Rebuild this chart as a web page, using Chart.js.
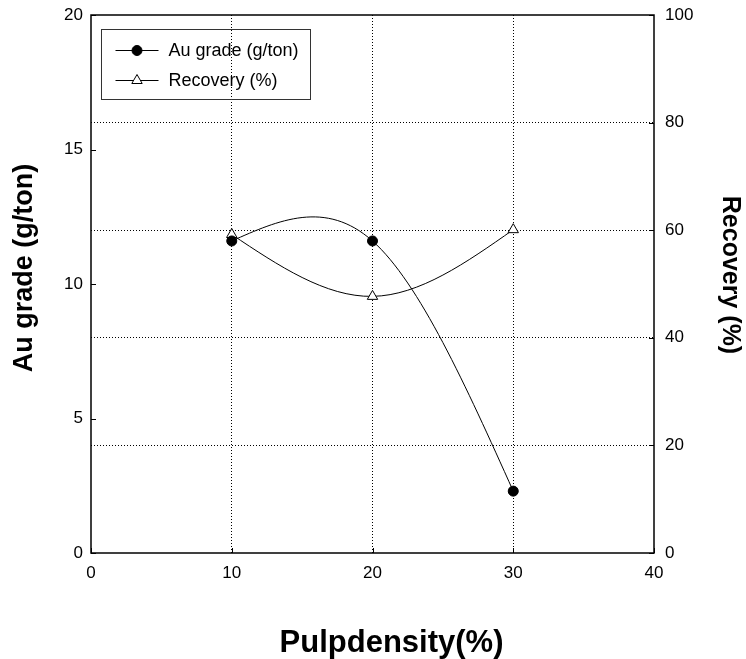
<!DOCTYPE html>
<html><head><meta charset="utf-8">
<script src="https://cdn.jsdelivr.net/npm/chart.js@4/dist/chart.umd.min.js"></script>
<style>html,body{margin:0;padding:0;background:#fff}</style>
</head><body>
<canvas id="c" width="746" height="659"></canvas>
<script>
const pulpDensity = [10, 20, 30];
const auGrade = [11.6, 11.6, 2.3];
const recovery = [59.2, 47.7, 60.1];
const xTicks = [0, 10, 20, 30, 40];
const leftTicks = [0, 5, 10, 15, 20];
const rightTicks = [0, 20, 40, 60, 80, 100];
const seriesNames = ['Au grade (g/ton)', 'Recovery (%)'];
const titleX = 'Pulpdensity(%)';
const titleLeft = 'Au grade (g/ton)';
const titleRight = 'Recovery (%)';

const FONT = '"Liberation Sans", Arial, Helvetica, sans-serif';

// natural cubic spline slopes at the knots (data space)
function splineSlopes(xs, ys) {
  const n = xs.length;
  const h = [];
  for (let i = 0; i < n - 1; i++) h.push(xs[i + 1] - xs[i]);
  const M = new Array(n).fill(0);
  if (n > 2) {
    const a = [], b = [], c = [], d = [];
    for (let i = 1; i < n - 1; i++) {
      a.push(h[i - 1]); b.push(2 * (h[i - 1] + h[i])); c.push(h[i]);
      d.push(6 * ((ys[i + 1] - ys[i]) / h[i] - (ys[i] - ys[i - 1]) / h[i - 1]));
    }
    const m = b.length;
    for (let i = 1; i < m; i++) {
      const w = a[i] / b[i - 1];
      b[i] -= w * c[i - 1]; d[i] -= w * d[i - 1];
    }
    const sol = new Array(m);
    sol[m - 1] = d[m - 1] / b[m - 1];
    for (let i = m - 2; i >= 0; i--) sol[i] = (d[i] - c[i] * sol[i + 1]) / b[i];
    for (let i = 0; i < m; i++) M[i + 1] = sol[i];
  }
  const s = [];
  for (let i = 0; i < n; i++) {
    if (i < n - 1) s.push((ys[i + 1] - ys[i]) / h[i] - h[i] * (2 * M[i] + M[i + 1]) / 6);
    else s.push((ys[i] - ys[i - 1]) / h[i - 1] + h[i - 1] * (M[i - 1] + 2 * M[i]) / 6);
  }
  return s;
}

const naturalSpline = {
  id: 'naturalSpline',
  beforeDatasetsDraw(chart) {
    chart.data.datasets.forEach((ds, di) => {
      const meta = chart.getDatasetMeta(di);
      const xs = ds.data.map(p => p.x), ys = ds.data.map(p => p.y);
      const sl = splineSlopes(xs, ys);
      const sx = chart.scales[meta.xAxisID], sy = chart.scales[meta.yAxisID];
      meta.data.forEach((pt, i) => {
        const hPrev = i > 0 ? xs[i] - xs[i - 1] : 0;
        const hNext = i < xs.length - 1 ? xs[i + 1] - xs[i] : 0;
        pt.cp1x = sx.getPixelForValue(xs[i] - hPrev / 3);
        pt.cp1y = sy.getPixelForValue(ys[i] - sl[i] * hPrev / 3);
        pt.cp2x = sx.getPixelForValue(xs[i] + hNext / 3);
        pt.cp2y = sy.getPixelForValue(ys[i] + sl[i] * hNext / 3);
      });
      if (meta.dataset) { meta.dataset._pointsUpdated = true; meta.dataset._path = undefined; }
    });
  }
};

function drawMarker(ctx, style, x, y) {
  ctx.save();
  ctx.lineWidth = 1;
  ctx.strokeStyle = '#000';
  ctx.beginPath();
  if (style === 'circle') {
    ctx.arc(x, y, 5, 0, Math.PI * 2);
    ctx.fillStyle = '#000';
  } else {
    const r = 6;
    let rad = 0;
    ctx.moveTo(x + Math.sin(rad) * r, y - Math.cos(rad) * r);
    rad += 2 * Math.PI / 3;
    ctx.lineTo(x + Math.sin(rad) * r, y - Math.cos(rad) * r);
    rad += 2 * Math.PI / 3;
    ctx.lineTo(x + Math.sin(rad) * r, y - Math.cos(rad) * r);
    ctx.closePath();
    ctx.fillStyle = '#fff';
  }
  ctx.fill();
  ctx.stroke();
  ctx.restore();
}

const decor = {
  id: 'decor',
  afterDraw(chart) {
    const ctx = chart.ctx;
    const ca = chart.chartArea;
    const sx = chart.scales.x, sl = chart.scales.yL, sr = chart.scales.yR;
    ctx.save();
    ctx.strokeStyle = '#000';
    ctx.lineWidth = 1.5;
    ctx.strokeRect(ca.left, ca.top, ca.right - ca.left, ca.bottom - ca.top);
    ctx.lineWidth = 1;
    ctx.beginPath();
    leftTicks.forEach(v => {
      const y = Math.round(sl.getPixelForValue(v)) + 0.5;
      ctx.moveTo(ca.left, y); ctx.lineTo(ca.left + 5, y);
    });
    rightTicks.forEach(v => {
      const y = Math.round(sr.getPixelForValue(v)) + 0.5;
      ctx.moveTo(ca.right, y); ctx.lineTo(ca.right - 5, y);
    });
    xTicks.forEach(v => {
      const x = Math.round(sx.getPixelForValue(v)) + 0.5;
      ctx.moveTo(x, ca.bottom); ctx.lineTo(x, ca.bottom - 5);
    });
    ctx.stroke();

    const lx = ca.left + 10.5, ly = ca.top + 14.5;
    ctx.strokeStyle = '#333';
    ctx.lineWidth = 1;
    ctx.strokeRect(lx, ly, 209, 70);
    const styles = ['circle', 'triangle'];
    ctx.font = '18px ' + FONT;
    ctx.textBaseline = 'middle';
    ctx.textAlign = 'left';
    seriesNames.forEach((name, i) => {
      const y = ly + 21 + i * 30;
      ctx.strokeStyle = '#000';
      ctx.beginPath();
      ctx.moveTo(lx + 14, y); ctx.lineTo(lx + 57, y);
      ctx.stroke();
      drawMarker(ctx, styles[i], lx + 35.5, y);
      ctx.fillStyle = '#000';
      ctx.fillText(name, lx + 67, y + 1);
    });

    ctx.fillStyle = '#000';
    ctx.textAlign = 'center';
    ctx.textBaseline = 'middle';
    ctx.font = 'bold 27px ' + FONT;
    ctx.save();
    ctx.translate(24.5, 268);
    ctx.rotate(-Math.PI / 2);
    ctx.fillText(titleLeft, 0, 0);
    ctx.restore();

    ctx.font = 'bold 25px ' + FONT;
    ctx.save();
    ctx.translate(729.5, 275);
    ctx.rotate(Math.PI / 2);
    ctx.fillText(titleRight, 0, 0);
    ctx.restore();

    ctx.font = 'bold 31px ' + FONT;
    ctx.textBaseline = 'alphabetic';
    ctx.fillText(titleX, (ca.left + ca.right) / 2 + 19, 652);
    ctx.restore();
  }
};

const tickFont = { family: FONT, size: 17 };
const hideEdge = (edges) => (c) => (c.tick && edges.includes(c.tick.value)) ? 'rgba(0,0,0,0)' : '#000';
const noPad = (w) => (s) => { s.width = w; s.paddingTop = 0; s.paddingBottom = 0; };

new Chart(document.getElementById('c'), {
  type: 'line',
  data: {
    datasets: [
      {
        label: seriesNames[0],
        data: pulpDensity.map((x, i) => ({ x: x, y: auGrade[i] })),
        yAxisID: 'yL',
        borderColor: '#000',
        borderWidth: 1,
        pointStyle: 'circle',
        pointRadius: 5,
        pointBorderWidth: 1,
        pointBackgroundColor: '#000',
        pointBorderColor: '#000',
        tension: 0.4,
        fill: false
      },
      {
        label: seriesNames[1],
        data: pulpDensity.map((x, i) => ({ x: x, y: recovery[i] })),
        yAxisID: 'yR',
        borderColor: '#000',
        borderWidth: 1,
        pointStyle: 'triangle',
        pointRadius: 6,
        pointBorderWidth: 1,
        pointBackgroundColor: '#fff',
        pointBorderColor: '#000',
        tension: 0.4,
        fill: false
      }
    ]
  },
  options: {
    responsive: false,
    animation: false,
    devicePixelRatio: 1,
    layout: { padding: { top: 15, left: 0, right: 0, bottom: 0 } },
    plugins: { legend: { display: false }, tooltip: { enabled: false } },
    scales: {
      x: {
        type: 'linear', min: 0, max: 40,
        afterBuildTicks: s => { s.ticks = xTicks.map(v => ({ value: v })); },
        ticks: { font: tickFont, color: '#000', padding: 10, maxRotation: 0, autoSkip: false },
        grid: { drawTicks: false, lineWidth: 1, color: hideEdge([0, 40]) },
        border: { display: false, dash: [1, 2] },
        afterFit: s => { s.height = 106; s.paddingLeft = 0; s.paddingRight = 0; }
      },
      yL: {
        type: 'linear', position: 'left', min: 0, max: 20,
        afterBuildTicks: s => { s.ticks = leftTicks.map(v => ({ value: v })); },
        ticks: { font: tickFont, color: '#000', padding: 8 },
        grid: { display: false, drawTicks: false },
        border: { display: false },
        afterFit: noPad(91)
      },
      yR: {
        type: 'linear', position: 'right', min: 0, max: 100,
        afterBuildTicks: s => { s.ticks = rightTicks.map(v => ({ value: v })); },
        ticks: { font: tickFont, color: '#000', padding: 11 },
        grid: { drawTicks: false, lineWidth: 1, color: hideEdge([0, 100]) },
        border: { display: false, dash: [1, 2] },
        afterFit: noPad(92)
      }
    }
  },
  plugins: [naturalSpline, decor]
});
</script>
</body></html>
